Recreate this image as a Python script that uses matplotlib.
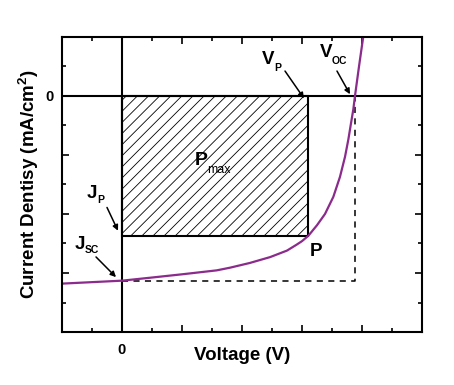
import numpy as np
import matplotlib.pyplot as plt
import matplotlib.patches as patches

plt.rcParams['font.family'] = ['Liberation Sans', 'DejaVu Sans']
plt.rcParams['font.weight'] = 'bold'
plt.rcParams['mathtext.fontset'] = 'custom'
plt.rcParams['mathtext.rm'] = 'Liberation Sans:bold'
plt.rcParams['mathtext.bf'] = 'Liberation Sans:bold'
plt.rcParams['hatch.linewidth'] = 0.6
plt.rcParams['hatch.color'] = '#333333'

# J-V curve
voltage = [-1.0, 0.0, 0.47, 1.02, 1.58, 1.8, 2.13, 2.47, 2.75, 2.91, 3.0,
           3.105, 3.25, 3.383, 3.522, 3.633, 3.717, 3.772, 3.817, 3.855,
           3.883, 3.95, 4.02]
current = [-3.18, -3.13, -3.08, -3.02, -2.955, -2.91, -2.83, -2.73, -2.62,
           -2.52, -2.46, -2.37, -2.19, -2.00, -1.71, -1.37, -1.03, -0.74,
           -0.46, -0.23, 0.0, 0.5, 1.0]

v_p = 3.105
j_p = -2.37
v_oc = 3.883
j_sc = -3.13

xticks = [-1, 0, 1, 2, 3, 4, 5]
xlabels = ['', '0', '', '', '', '', '']
yticks = [-4, -3, -2, -1, 0, 1]
ylabels = ['', '', '', '', '0', '']

fig = plt.figure(figsize=(4.54, 3.85), dpi=100)
ax = fig.add_axes([62 / 454, 1 - 332 / 385, 360 / 454, 295 / 385])

# hatched power rectangle
rect = patches.Rectangle((0, j_p), v_p, -j_p, facecolor='none',
                         edgecolor='black', linewidth=1.5, hatch='///')
ax.add_patch(rect)

ax.axhline(0, color='black', lw=1.5)
ax.axvline(0, color='black', lw=1.5)

ax.plot([0, v_oc, v_oc], [j_sc, j_sc, 0], color='black', lw=1.1,
        linestyle=(0, (4, 3.5)))
ax.plot(voltage, current, color='#8b2b8b', lw=1.6)

ax.set_xlim(-1, 5)
ax.set_ylim(-4, 1)
ax.set_xticks(xticks)
ax.set_xticklabels(xlabels)
ax.set_yticks(yticks)
ax.set_yticklabels(ylabels)
ax.set_xticks(np.arange(-0.5, 5, 1), minor=True)
ax.set_yticks(np.arange(-3.5, 1, 1), minor=True)
ax.tick_params(which='both', direction='in', top=True, right=True,
               width=1.2, labelsize=10.5)
ax.tick_params(axis='x', pad=8)
ax.tick_params(axis='y', pad=6)
ax.tick_params(which='major', length=5)
ax.tick_params(which='minor', length=3)
for s in ax.spines.values():
    s.set_linewidth(1.5)

ax.set_xlabel('Voltage (V)', fontsize=13.5, fontweight='bold', labelpad=-7)
ax.set_ylabel('Current Dentisy (mA/cm$^2$)', fontsize=13.5,
              fontweight='bold', labelpad=3)


def label(x, y, main, sub, dx, dy, size=13.5, subsize=7.5, subweight='bold'):
    ax.text(x, y, main, fontsize=size, fontweight='bold',
            ha='left', va='baseline')
    ax.annotate(sub, xy=(x, y), xytext=(dx * 0.72, -dy * 0.72),
                textcoords='offset points', fontsize=subsize,
                fontweight=subweight, ha='left', va='baseline')


def arrow(start, end):
    ax.annotate('', xy=end, xytext=start,
                arrowprops=dict(arrowstyle='-|>', color='black', lw=1.1,
                                mutation_scale=8, shrinkA=0, shrinkB=0))


label(2.333, 0.542, 'V', 'P', 12, 7)
arrow((2.717, 0.423), (3.033, -0.04))
label(3.3, 0.663, 'V', 'OC', 12, 7)
arrow((3.583, 0.423), (3.8, 0.03))
label(-0.583, -1.724, 'J', 'P', 10, 5)
arrow((-0.25, -1.889), (-0.067, -2.283))
label(-0.783, -2.6, 'J', 'SC', 10, 4)
arrow((-0.433, -2.728), (-0.1, -3.07))
label(1.217, -1.176, 'P', 'max', 12, 8, size=14, subsize=9,
      subweight='normal')
ax.text(3.133, -2.71, 'P', fontsize=13.5, fontweight='bold',
        ha='left', va='baseline')

plt.savefig('out.png', dpi=100)
